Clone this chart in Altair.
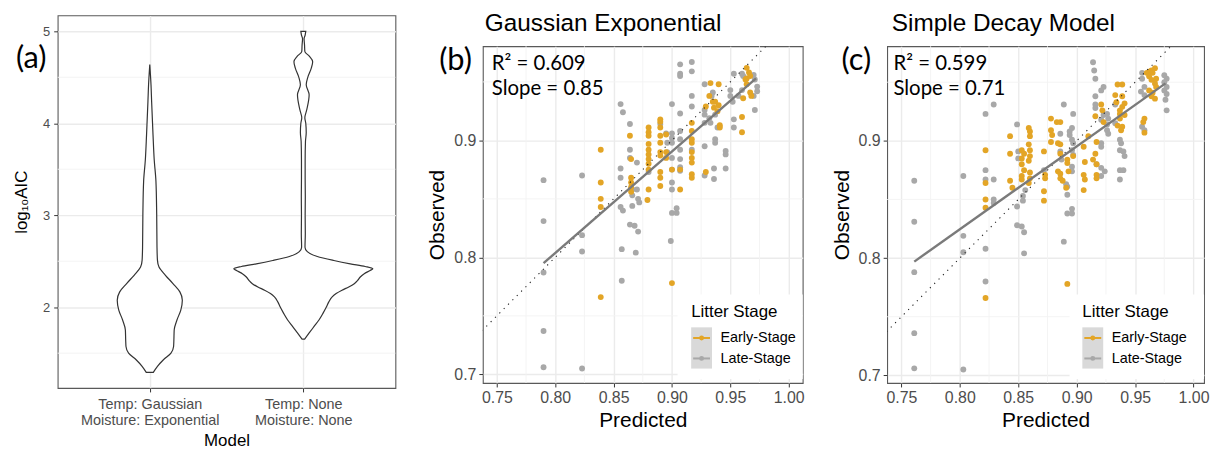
import json
import altair as alt
import pandas as pd

FONT = "Liberation Sans"
TAG_FONT = "Lato"

# ------------------------------------------------------------------ data
# panel (a): violin outlines (log10 AIC, half width in x units)
model_names = ["Temp: Gaussian\nMoisture: Exponential", "Temp: None\nMoisture: None"]
model_pos = [1, 2]
aic_ticks = [2, 3, 4, 5]
aic_minor = [1.5, 2.5, 3.5, 4.5]

violin1_aic = [1.292, 1.357, 1.429, 1.501, 1.572, 1.645, 1.753, 1.861, 1.969, 2.077,
               2.167, 2.257, 2.347, 2.436, 2.509, 2.652, 3.013, 3.373, 3.6, 3.877,
               4.236, 4.417, 4.64]
violin1_half = [0.023, 0.050, 0.089, 0.138, 0.155, 0.157, 0.159, 0.177, 0.202, 0.212,
                0.196, 0.151, 0.102, 0.060, 0.050, 0.047, 0.045, 0.040, 0.029, 0.021,
                0.012, 0.008, 0.0]

violin2_aic = [1.652, 1.717, 1.788, 1.861, 1.933, 2.004, 2.058, 2.112, 2.149, 2.185,
               2.22, 2.256, 2.292, 2.328, 2.364, 2.40, 2.418, 2.443, 2.472, 2.508,
               2.551, 2.605, 2.652, 2.8, 3.0, 3.2, 3.4, 3.6, 3.8, 3.9,
               4.0, 4.06, 4.15, 4.31, 4.42, 4.5, 4.6, 4.67, 4.73, 4.78,
               4.85, 4.92, 4.96, 5.0]
violin2_half = [0.008, 0.037, 0.069, 0.102, 0.128, 0.151, 0.166, 0.188, 0.214, 0.252,
                0.296, 0.332, 0.354, 0.371, 0.397, 0.436, 0.453, 0.403, 0.306, 0.199,
                0.091, 0.026, 0.011, 0.013, 0.012, 0.013, 0.012, 0.012, 0.014, 0.019,
                0.016, 0.010, 0.023, 0.038, 0.019, 0.029, 0.052, 0.061, 0.039, 0.010,
                0.008, 0.005, 0.012, 0.016]

# panels (b) and (c)
panel_titles = ["Gaussian Exponential", "Simple Decay Model"]
pred_ticks = [0.75, 0.80, 0.85, 0.90, 0.95, 1.00]
pred_minor = [0.775, 0.825, 0.875, 0.925, 0.975]
obs_ticks = [0.7, 0.8, 0.9]
obs_minor = [0.75, 0.85, 0.95]
one_to_one = [0.70, 1.00]

stages = ["Early-Stage", "Late-Stage"]
stage_colors = ["#E3A526", "#A8A8A8"]

ge_early = [(0.839, 0.892), (0.839, 0.864), (0.839, 0.850), (0.839, 0.843), (0.839, 0.766),
            (0.864, 0.904), (0.865, 0.884), (0.865, 0.868), (0.865, 0.864), (0.865, 0.860), (0.865, 0.856),
            (0.880, 0.911), (0.880, 0.907), (0.880, 0.904), (0.880, 0.897), (0.880, 0.892), (0.880, 0.888),
            (0.880, 0.884), (0.880, 0.880), (0.880, 0.875), (0.880, 0.858), (0.879, 0.849),
            (0.890, 0.918), (0.890, 0.916), (0.890, 0.911), (0.890, 0.904), (0.890, 0.898), (0.890, 0.890),
            (0.890, 0.887), (0.890, 0.873), (0.890, 0.868), (0.890, 0.861),
            (0.895, 0.905), (0.895, 0.890), (0.895, 0.885),
            (0.900, 0.875), (0.900, 0.778),
            (0.907, 0.875), (0.907, 0.858),
            (0.917, 0.915), (0.917, 0.908), (0.917, 0.901), (0.917, 0.898), (0.917, 0.890), (0.917, 0.885),
            (0.917, 0.881), (0.917, 0.871), (0.917, 0.868),
            (0.929, 0.873),
            (0.933, 0.949), (0.940, 0.948), (0.932, 0.938), (0.935, 0.933), (0.937, 0.933), (0.940, 0.930),
            (0.929, 0.929), (0.936, 0.928), (0.939, 0.925), (0.941, 0.913), (0.941, 0.911),
            (0.960, 0.920), (0.960, 0.907),
            (0.964, 0.962), (0.966, 0.958), (0.964, 0.953), (0.967, 0.955), (0.963, 0.952), (0.964, 0.948),
            (0.967, 0.941), (0.968, 0.938), (0.961, 0.936)]

ge_late = [(0.790, 0.866), (0.790, 0.831), (0.790, 0.787), (0.790, 0.737), (0.790, 0.706),
           (0.823, 0.870), (0.823, 0.819), (0.823, 0.805), (0.823, 0.705),
           (0.857, 0.807), (0.857, 0.780), (0.869, 0.804), (0.864, 0.828), (0.868, 0.827), (0.871, 0.822),
           (0.899, 0.814), (0.900, 0.838), (0.904, 0.838), (0.904, 0.842),
           (0.856, 0.931), (0.858, 0.924), (0.856, 0.876), (0.856, 0.868), (0.856, 0.843), (0.858, 0.840),
           (0.864, 0.914), (0.864, 0.892), (0.864, 0.885), (0.866, 0.858), (0.866, 0.853), (0.866, 0.844),
           (0.870, 0.881), (0.870, 0.858), (0.871, 0.850), (0.872, 0.847),
           (0.880, 0.873), (0.890, 0.914),
           (0.895, 0.906), (0.896, 0.898), (0.896, 0.890),
           (0.900, 0.931), (0.900, 0.906), (0.900, 0.902), (0.900, 0.898), (0.900, 0.885), (0.900, 0.875),
           (0.900, 0.864), (0.900, 0.858),
           (0.907, 0.965), (0.907, 0.957), (0.907, 0.955), (0.907, 0.923), (0.907, 0.908), (0.907, 0.901),
           (0.907, 0.892), (0.907, 0.884), (0.907, 0.877), (0.907, 0.874),
           (0.917, 0.967), (0.917, 0.959), (0.917, 0.938), (0.917, 0.929), (0.917, 0.892),
           (0.928, 0.948), (0.928, 0.926), (0.928, 0.922), (0.928, 0.915), (0.928, 0.895), (0.928, 0.870),
           (0.934, 0.938), (0.935, 0.941), (0.937, 0.922), (0.932, 0.919), (0.933, 0.915), (0.939, 0.911),
           (0.937, 0.901), (0.937, 0.898), (0.946, 0.891), (0.946, 0.888), (0.936, 0.876), (0.936, 0.867),
           (0.946, 0.876),
           (0.953, 0.957), (0.950, 0.943), (0.950, 0.938), (0.952, 0.933), (0.953, 0.918), (0.953, 0.911),
           (0.960, 0.957), (0.961, 0.955), (0.970, 0.956), (0.971, 0.952), (0.973, 0.946), (0.973, 0.942),
           (0.970, 0.938), (0.971, 0.926), (0.960, 0.943), (0.957, 0.938)]

ge_fit_pred = [0.790, 0.972]
ge_fit_obs = [0.795, 0.953]
ge_r2, ge_slope = "0.609", "0.85"

sd_early = [(0.822, 0.892), (0.822, 0.864), (0.822, 0.850), (0.822, 0.843), (0.822, 0.766),
            (0.843, 0.904), (0.843, 0.889), (0.843, 0.866), (0.845, 0.860),
            (0.853, 0.892), (0.853, 0.885), (0.853, 0.880), (0.855, 0.889), (0.853, 0.870), (0.853, 0.867),
            (0.855, 0.875),
            (0.859, 0.911), (0.860, 0.908), (0.860, 0.904), (0.859, 0.897), (0.860, 0.892), (0.860, 0.887),
            (0.859, 0.883), (0.860, 0.873), (0.860, 0.868), (0.859, 0.864),
            (0.872, 0.891), (0.872, 0.857), (0.872, 0.849), (0.873, 0.871), (0.873, 0.868),
            (0.878, 0.919), (0.878, 0.909), (0.879, 0.905), (0.878, 0.899),
            (0.883, 0.916), (0.886, 0.916),
            (0.884, 0.898), (0.886, 0.897), (0.886, 0.889), (0.884, 0.874), (0.886, 0.872), (0.886, 0.868),
            (0.888, 0.866), (0.891, 0.860),
            (0.892, 0.884), (0.892, 0.881), (0.893, 0.874), (0.897, 0.887), (0.892, 0.778),
            (0.906, 0.895), (0.907, 0.882), (0.906, 0.871), (0.907, 0.867), (0.906, 0.858), (0.910, 0.904),
            (0.916, 0.921), (0.917, 0.899), (0.916, 0.889), (0.914, 0.884), (0.917, 0.880), (0.917, 0.871),
            (0.917, 0.868),
            (0.921, 0.931), (0.922, 0.926), (0.923, 0.916),
            (0.935, 0.948), (0.939, 0.948), (0.933, 0.939), (0.934, 0.933), (0.939, 0.938), (0.941, 0.932),
            (0.939, 0.929), (0.937, 0.926), (0.937, 0.923), (0.941, 0.922), (0.937, 0.919), (0.935, 0.913),
            (0.939, 0.912), (0.938, 0.909),
            (0.958, 0.919), (0.957, 0.916), (0.958, 0.907),
            (0.960, 0.958), (0.962, 0.959), (0.964, 0.960), (0.965, 0.958), (0.967, 0.962), (0.962, 0.955),
            (0.968, 0.953), (0.964, 0.952), (0.967, 0.949), (0.968, 0.946), (0.962, 0.943), (0.965, 0.941),
            (0.964, 0.938), (0.967, 0.936)]

sd_late = [(0.761, 0.866), (0.761, 0.831), (0.761, 0.788), (0.761, 0.736), (0.761, 0.706),
           (0.803, 0.870), (0.803, 0.819), (0.803, 0.805), (0.803, 0.705),
           (0.822, 0.923), (0.829, 0.931), (0.822, 0.875), (0.822, 0.867), (0.822, 0.808), (0.822, 0.780),
           (0.829, 0.867), (0.829, 0.850), (0.829, 0.847),
           (0.849, 0.828), (0.853, 0.827), (0.855, 0.822), (0.855, 0.804),
           (0.849, 0.914), (0.850, 0.891), (0.850, 0.885), (0.854, 0.853), (0.854, 0.849), (0.849, 0.844),
           (0.856, 0.858),
           (0.872, 0.875),
           (0.889, 0.931), (0.897, 0.923), (0.896, 0.911), (0.894, 0.908), (0.894, 0.905), (0.896, 0.901),
           (0.897, 0.898), (0.896, 0.892), (0.897, 0.888), (0.896, 0.878), (0.896, 0.874), (0.886, 0.906),
           (0.886, 0.891), (0.887, 0.884), (0.891, 0.863), (0.892, 0.861), (0.892, 0.854), (0.889, 0.814),
           (0.892, 0.838), (0.896, 0.838), (0.896, 0.842),
           (0.914, 0.967), (0.915, 0.960), (0.916, 0.953), (0.916, 0.938), (0.916, 0.931), (0.916, 0.928),
           (0.917, 0.880), (0.921, 0.877), (0.921, 0.870), (0.924, 0.874),
           (0.923, 0.946), (0.921, 0.943), (0.923, 0.922), (0.921, 0.918), (0.926, 0.923), (0.927, 0.919),
           (0.926, 0.914), (0.926, 0.909), (0.927, 0.906), (0.921, 0.898), (0.921, 0.895),
           (0.933, 0.931), (0.937, 0.901), (0.938, 0.898), (0.937, 0.892), (0.940, 0.891), (0.941, 0.887),
           (0.937, 0.875), (0.940, 0.875), (0.937, 0.867), (0.933, 0.915),
           (0.956, 0.958), (0.956, 0.953), (0.955, 0.942), (0.958, 0.946), (0.958, 0.939), (0.956, 0.912),
           (0.958, 0.909),
           (0.975, 0.956), (0.977, 0.953), (0.975, 0.950), (0.977, 0.946), (0.975, 0.943), (0.977, 0.940),
           (0.976, 0.935), (0.977, 0.926)]

sd_fit_pred = [0.761, 0.976]
sd_fit_obs = [0.797, 0.949]
sd_r2, sd_slope = "0.599", "0.71"

# ------------------------------------------------------------------ helpers
ONE = pd.DataFrame({"k": [0]})
MINOR = "#F3F3F3"
NO_FRAME = alt.ViewBackground(stroke="transparent", strokeOpacity=0)


def txt(text, x, y, size, font=FONT, align="left", baseline="alphabetic", color="black"):
    return alt.Chart(ONE).mark_text(
        text=text, x=x, y=y, fontSize=size, font=font, align=align,
        baseline=baseline, color=color)


# ------------------------------------------------------------------ panel (a)
vio_rows = []
for pos, ys, hs in zip(model_pos, (violin1_aic, violin2_aic), (violin1_half, violin2_half)):
    for yv, hv in zip(ys, hs):
        vio_rows.append({"model": pos, "aic": yv, "lo": pos - hv, "hi": pos + hv})
vio = pd.DataFrame(vio_rows)

label_expr = ("datum.value == 1 ? " + json.dumps(model_names[0].split("\n")) +
              " : " + json.dumps(model_names[1].split("\n")))

xa = alt.Scale(domain=[0.4, 2.6], nice=False, zero=False)
ya = alt.Scale(domain=[1.122, 5.173], nice=False, zero=False)
xa_axis = alt.Axis(values=model_pos, labelExpr=label_expr, title="Model", grid=True,
                   labelFontSize=14.5, labelLineHeight=16, titleFontSize=17,
                   labelPadding=6, titlePadding=5)
ya_axis = alt.Axis(values=aic_ticks, title="log₁₀AIC", grid=True, labelFontSize=13,
                   titleFontSize=17, labelPadding=4, titlePadding=12)

a_minor = alt.Chart(pd.DataFrame({"aic": aic_minor})).mark_rule(
    color=MINOR, strokeWidth=0.9).encode(y=alt.Y("aic:Q", scale=ya, axis=ya_axis))
a_violin = alt.Chart(vio).mark_area(
    orient="horizontal", fill="white", stroke="#333333", strokeWidth=1.2,
    interpolate="monotone").encode(
    y=alt.Y("aic:Q", scale=ya, axis=ya_axis),
    x=alt.X("lo:Q", scale=xa, axis=xa_axis),
    x2="hi:Q",
    detail="model:N")
a_tag = txt("(a)", -42, 53.4, 31, font=TAG_FONT)

panel_a = alt.layer(a_minor, a_violin, a_tag).properties(width=340, height=375)


# ------------------------------------------------------------------ panels (b), (c)
def scatter_panel(early, late, fit_p, fit_o, r2, slope, tag, xdom, ydom, w, h, L):
    pts = pd.DataFrame(
        [{"pred": p, "obs": o, "stage": stages[1]} for p, o in late] +
        [{"pred": p, "obs": o, "stage": stages[0]} for p, o in early])
    xs = alt.Scale(domain=xdom, nice=False, zero=False)
    ys = alt.Scale(domain=ydom, nice=False, zero=False)
    xax = alt.Axis(values=pred_ticks, format=".2f", title="Predicted", grid=True,
                   labelFontSize=16, titleFontSize=21, labelPadding=3, titlePadding=4)
    yax = alt.Axis(values=obs_ticks, format=".1f", title="Observed", grid=True,
                   labelFontSize=16, titleFontSize=21, labelPadding=3, titlePadding=6)
    X = alt.X("pred:Q", scale=xs, axis=xax)
    Y = alt.Y("obs:Q", scale=ys, axis=yax)

    mx = alt.Chart(pd.DataFrame({"pred": pred_minor})).mark_rule(
        color=MINOR, strokeWidth=0.9).encode(x=X)
    my = alt.Chart(pd.DataFrame({"obs": obs_minor})).mark_rule(
        color=MINOR, strokeWidth=0.9).encode(y=Y)
    points = alt.Chart(pts).mark_circle(size=35, opacity=1).encode(
        x=X, y=Y,
        color=alt.Color("stage:N", scale=alt.Scale(domain=stages, range=stage_colors),
                        legend=None))
    ident = alt.Chart(pd.DataFrame({"pred": one_to_one, "obs": one_to_one})).mark_line(
        clip=True, color="#222222", strokeWidth=1.1, strokeDash=[1.2, 5]).encode(x=X, y=Y)
    fit = alt.Chart(pd.DataFrame({"pred": fit_p, "obs": fit_o})).mark_line(
        color="#7A7A7A", strokeWidth=2.4).encode(x=X, y=Y)

    # legend drawn inside the panel (ggplot style)
    leg_bg = alt.Chart(ONE).mark_rect(color="white").encode(
        x=alt.value(L["bg"]), x2=alt.value(w), y=alt.value(250), y2=alt.value(335))
    key_bg = alt.Chart(ONE).mark_rect(color="#D9D9D9").encode(
        x=alt.value(L["k0"]), x2=alt.value(L["k0"] + 21), y=alt.value(283), y2=alt.value(324.5))
    layers = [mx, my, points, ident, fit, leg_bg, key_bg]
    for i, (name, col) in enumerate(zip(stages, stage_colors)):
        yy = 293.7 + i * 20.6
        layers.append(alt.Chart(ONE).mark_rule(color=col, strokeWidth=2).encode(
            x=alt.value(L["k0"] + 2), x2=alt.value(L["k0"] + 19), y=alt.value(yy)))
        layers.append(alt.Chart(ONE).mark_circle(color=col, size=24, opacity=1).encode(
            x=alt.value(L["k0"] + 10.5), y=alt.value(yy)))
        layers.append(txt(name, L["k0"] + 29.5, yy + 0.5, 14.5, baseline="middle"))
    layers.append(txt("Litter Stage", L["k0"], 273, 17))
    layers.append(txt("R² = " + r2, L["t"], 23.7, 20.5, font=TAG_FONT))
    layers.append(txt("Slope = " + slope, L["t"], 48.7, 20.5, font=TAG_FONT))
    layers.append(txt(tag, L["tag"], 23.7, 31, font=TAG_FONT))

    return alt.layer(*layers).properties(width=w, height=h)


panel_b = scatter_panel(ge_early, ge_late, ge_fit_pred, ge_fit_obs, ge_r2, ge_slope,
                        "(b)", [0.738, 1.012], [0.6926, 0.9805],
                        322, 339, {"bg": 196, "k0": 209.7, "t": 9, "tag": -44})
panel_c = scatter_panel(sd_early, sd_late, sd_fit_pred, sd_fit_obs, sd_r2, sd_slope,
                        "(c)", [0.7378, 1.009], [0.6935, 0.9807],
                        319, 339, {"bg": 183.6, "k0": 196.5, "t": 6.3, "tag": -46})

# strip that carries the two panel titles above (b) and (c)
title_strip = alt.layer(
    txt(panel_titles[0], 2, 15.3, 24.5),
    txt(panel_titles[1], 411.7, 15.3, 24.5),
).properties(width=700, height=29, view=NO_FRAME)

right_block = alt.vconcat(
    title_strip,
    alt.hconcat(panel_b, panel_c, spacing=25),
    spacing=0,
)

chart = alt.hconcat(
    panel_a,
    right_block,
    spacing=30,
).properties(
    padding={"left": 4, "top": 1, "right": 0, "bottom": 0},
    background="white",
).configure_view(
    stroke="#595959", strokeWidth=1.1
).configure_axis(
    domain=False, tickColor="#333333", tickSize=4, tickWidth=1,
    labelColor="#4D4D4D", labelFont=FONT, titleFont=FONT, titleColor="black",
    titleFontWeight="normal", gridColor="#EBEBEB", gridWidth=1.4
)

chart.save("out.html", embed_options={"renderer": "svg", "actions": False})
